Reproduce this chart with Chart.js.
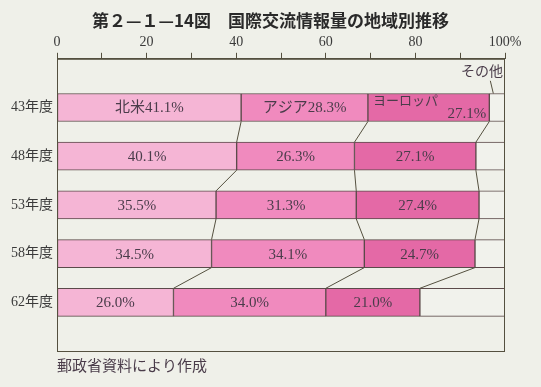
<!DOCTYPE html>
<html>
<head>
<meta charset="utf-8">
<script src="https://cdn.jsdelivr.net/npm/chart.js@4.4.1/dist/chart.umd.min.js"></script>
<style>
  html, body { margin: 0; padding: 0; background: #eff0e9; }
  #wrap { width: 541px; height: 387px; }
</style>
</head>
<body>
<div id="wrap"><canvas id="c" width="541" height="387"></canvas></div>
<script>
// ── データ ──
const years = ['43年度', '48年度', '53年度', '58年度', '62年度'];
const regions = ['北米', 'アジア', 'ヨーロッパ', 'その他'];
const northAmerica = [41.1, 40.1, 35.5, 34.5, 26.0];
const asia         = [28.3, 26.3, 31.3, 34.1, 34.0];
const europe       = [27.1, 27.1, 27.4, 24.7, 21.0];
const others       = [3.5, 6.5, 5.8, 6.7, 19.0];
const xTickLabels  = { 0: '0', 20: '20', 40: '40', 60: '60', 80: '80', 100: '100%' };
const titleText = '第２—１—14図　国際交流情報量の地域別推移';
const sourceText = '郵政省資料により作成';

const SERIF = "'Liberation Serif', 'Noto Sans CJK JP', serif";
const LINE = '#54503f';
const TEXT = '#4a3c4a';

// 上下に空の枠を1つずつ
const labels = ['', ...years, ''];
const pad = arr => [null, ...arr, null];

const overlay = {
  id: 'overlay',
  afterDatasetsDraw(chart) {
    const { ctx, chartArea: a } = chart;
    ctx.save();
    ctx.strokeStyle = LINE;
    ctx.lineWidth = 1;

    // タイトル（キャンバス中央）
    ctx.fillStyle = '#2a2a2a';
    ctx.font = "bold 17px 'Noto Sans CJK JP', sans-serif";
    ctx.textAlign = 'center';
    ctx.textBaseline = 'middle';
    ctx.fillText(titleText, chart.width / 2, 21);

    // 境界をつなぐ斜線
    for (let d = 0; d < 3; d++) {
      const els = chart.getDatasetMeta(d).data;
      for (let i = 1; i < years.length; i++) {
        const p = els[i], q = els[i + 1];
        ctx.beginPath();
        ctx.moveTo(p.x, p.y + p.height / 2);
        ctx.lineTo(q.x, q.y - q.height / 2);
        ctx.stroke();
      }
    }

    // 外枠
    ctx.strokeRect(a.left + 0.5, a.top + 0.5, a.right - a.left - 1, a.bottom - a.top);

    // 帯の中の数値
    ctx.fillStyle = TEXT;
    ctx.font = '15px ' + SERIF;
    const series = [northAmerica, asia, europe];
    series.forEach((vals, d) => {
      const els = chart.getDatasetMeta(d).data;
      vals.forEach((v, i) => {
        const el = els[i + 1];
        const txt = v.toFixed(1) + '%';
        if (i === 0 && d === 2) {
          ctx.font = '13px ' + SERIF;
          ctx.textAlign = 'left';
          ctx.fillText(regions[2], el.base + 5, el.y - 6);
          ctx.font = '15px ' + SERIF;
          ctx.textAlign = 'right';
          ctx.fillText(txt, el.x - 3, el.y + 7);
          return;
        }
        ctx.textAlign = 'center';
        ctx.fillText(i === 0 ? regions[d] + txt : txt, (el.base + el.x) / 2, el.y + 1);
      });
    });

    // その他のラベル
    const o = chart.getDatasetMeta(3).data[1];
    ctx.font = '14px ' + SERIF;
    ctx.textAlign = 'right';
    ctx.fillText(regions[3], a.right - 2, a.top + 14);
    ctx.beginPath();
    ctx.moveTo(o.base + 1, a.top + 22);
    ctx.lineTo(o.base + 4, o.y - o.height / 2);
    ctx.stroke();

    // 出典
    ctx.textAlign = 'left';
    ctx.font = '15px ' + SERIF;
    ctx.fillText(sourceText, a.left, a.bottom + 16);
    ctx.restore();
  }
};

const barStyle = { barThickness: 28, borderWidth: 1, borderColor: '#5b4a4a', borderSkipped: false };

new Chart(document.getElementById('c'), {
  type: 'bar',
  data: {
    labels: labels,
    datasets: [
      { label: regions[0], data: pad(northAmerica), backgroundColor: '#f5b5d5', ...barStyle },
      { label: regions[1], data: pad(asia), backgroundColor: '#f08abe', ...barStyle },
      { label: regions[2], data: pad(europe), backgroundColor: '#e469a6', ...barStyle },
      { label: regions[3], data: pad(others), backgroundColor: '#f1f2ec', ...barStyle }
    ]
  },
  options: {
    indexAxis: 'y',
    responsive: false,
    devicePixelRatio: 1,
    animation: false,
    layout: { padding: { left: 0, right: 36, top: 32, bottom: 36 } },
    plugins: {
      legend: { display: false },
      tooltip: { enabled: false },
      title: { display: false }
    },
    scales: {
      x: {
        position: 'top',
        stacked: true,
        min: 0,
        max: 100,
        ticks: {
          stepSize: 10,
          autoSkip: false,
          maxRotation: 0,
          padding: 2,
          color: '#3a3a3a',
          font: { family: SERIF, size: 14 },
          callback: v => xTickLabels[v] ?? ''
        },
        grid: { drawOnChartArea: false, drawTicks: true, tickLength: 6, color: LINE },
        border: { display: true, color: LINE }
      },
      y: {
        stacked: true,
        offset: false,
        grid: { display: false, tickLength: 0 },
        border: { display: false },
        ticks: { padding: 4, autoSkip: false, color: '#3a3a3a', font: { family: SERIF, size: 14 } },
        afterFit: s => { s.width = 57; }
      }
    }
  },
  plugins: [overlay]
});
</script>
</body>
</html>
